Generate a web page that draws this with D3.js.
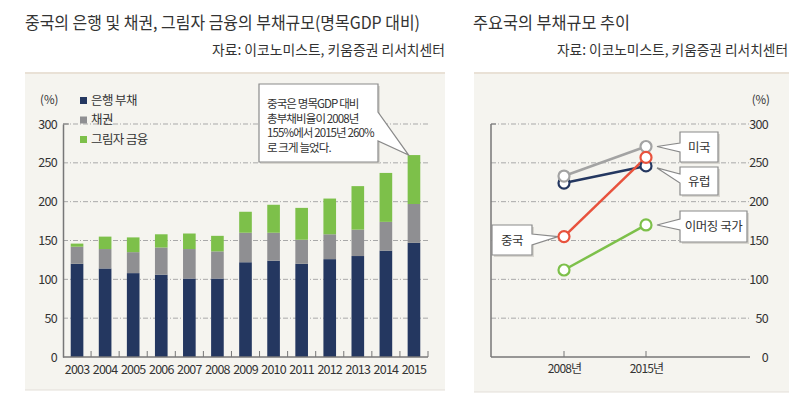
<!DOCTYPE html>
<html><head><meta charset="utf-8">
<script src="https://cdn.jsdelivr.net/npm/d3@7"></script>
<style>
body{margin:0;background:#fff;}
text{font-family:"Noto Sans CJK KR","Noto Sans",sans-serif;fill:#333;}
</style></head>
<body><svg id="c" width="800" height="400"></svg>
<script>
// ---- data: left chart ----
const years = ["2003","2004","2005","2006","2007","2008","2009","2010","2011","2012","2013","2014","2015"];
const bankDebt = [120,114,108,106,101,101,122,124,120,126,130,137,147];
const bondDebt = [22,25,27,35,38,35,38,36,31,32,34,37,50];
const shadowDebt = [4,16,19,17,20,20,27,36,41,46,56,63,63];
const seriesNames = ["은행 부채","채권","그림자 금융"];
const yTicks = [0,50,100,150,200,250,300];
// ---- data: right chart ----
const periods = ["2008년","2015년"];
const usDebt = [233,271];
const europeDebt = [224,246];
const chinaDebt = [155,257];
const emergingDebt = [112,170];

const svg = d3.select("#c");
const barColors = ["#243760","#8f8f92","#7dc04a"];
const gridColor = "#a9a9a9";
const dash = "5,2,1,2";

// panels
svg.append("rect").attr("x",25).attr("y",72).attr("width",420).attr("height",318).attr("fill","#f5f4ef");
svg.append("rect").attr("x",474).attr("y",72).attr("width",315).attr("height",320).attr("fill","#f5f4ef");
[[25,445],[474,789]].forEach(([a,b])=>{
  svg.append("line").attr("x1",a).attr("x2",b).attr("y1",73).attr("y2",73).attr("stroke","#e9e1d6").attr("stroke-width",2);
});
svg.append("line").attr("x1",25).attr("x2",445).attr("y1",390).attr("y2",390).attr("stroke","#e3dfd8");
svg.append("line").attr("x1",474).attr("x2",789).attr("y1",392).attr("y2",392).attr("stroke","#e3dfd8");

// titles
svg.append("text").attr("x",25).attr("y",29).attr("font-size",17).attr("fill","#2a2a2a").attr("textLength",395).attr("lengthAdjust","spacingAndGlyphs")
  .text("중국의 은행 및 채권, 그림자 금융의 부채규모(명목GDP 대비)");
svg.append("text").attr("x",212).attr("y",55).attr("font-size",14).attr("textLength",233).attr("lengthAdjust","spacingAndGlyphs")
  .text("자료:  이코노미스트, 키움증권 리서치센터");
svg.append("text").attr("x",473).attr("y",29).attr("font-size",17).attr("fill","#2a2a2a").attr("textLength",157).attr("lengthAdjust","spacingAndGlyphs")
  .text("주요국의 부채규모 추이");
svg.append("text").attr("x",557).attr("y",55).attr("font-size",14).attr("textLength",231).attr("lengthAdjust","spacingAndGlyphs")
  .text("자료:  이코노미스트, 키움증권 리서치센터");

// ---- left chart ----
const y = d3.scaleLinear().domain([0,300]).range([357,124]);
const x = d3.scaleBand().domain(years).range([63,428]).paddingInner(0.55).paddingOuter(0.275);
const gL = svg.append("g");
gL.selectAll(".grid").data(yTicks.filter(d=>d>0)).join("line")
  .attr("x1",63).attr("x2",428).attr("y1",d=>y(d)).attr("y2",d=>y(d))
  .attr("stroke",gridColor).attr("stroke-dasharray",dash).attr("stroke-width",1);
const yAxL = gL.append("g").attr("transform","translate(63,0)")
  .call(d3.axisLeft(y).tickValues(yTicks).tickSize(0).tickPadding(6));
yAxL.select(".domain").attr("stroke","#777").attr("stroke-width",1.5);
yAxL.selectAll("text").attr("font-size",12.5).attr("fill","#333").attr("letter-spacing",-0.7).attr("font-family","'Noto Sans',sans-serif");
gL.append("line").attr("x1",63).attr("x2",69).attr("y1",y(300)).attr("y2",y(300)).attr("stroke","#777");

const stackData = years.map((yr,i)=>({year:yr, bank:bankDebt[i], bond:bondDebt[i], shadow:shadowDebt[i]}));
const stack = d3.stack().keys(["bank","bond","shadow"])(stackData);
gL.selectAll(".s").data(stack).join("g").attr("fill",(d,i)=>barColors[i])
  .selectAll("rect").data(d=>d).join("rect")
  .attr("x",d=>x(d.data.year)).attr("width",x.bandwidth())
  .attr("y",d=>y(d[1])).attr("height",d=>y(d[0])-y(d[1]));

const xAxL = gL.append("g").attr("transform","translate(0,357)")
  .call(d3.axisBottom(x).tickSize(0).tickPadding(8));
xAxL.select(".domain").remove();
xAxL.selectAll("text").attr("font-size",12.5).attr("fill","#333").attr("letter-spacing",-0.8).attr("font-family","'Noto Sans',sans-serif");
gL.append("line").attr("x1",63).attr("x2",428).attr("y1",357).attr("y2",357).attr("stroke","#777").attr("stroke-width",1.5);
gL.selectAll(".xt").data(years.slice(1).concat(["end"])).join("line")
  .attr("x1",d=>d==="end"?428:x(d)-x.step()*x.paddingInner()/2).attr("x2",d=>d==="end"?428:x(d)-x.step()*x.paddingInner()/2)
  .attr("y1",357).attr("y2",351).attr("stroke","#777");

gL.append("text").attr("x",40).attr("y",104).attr("font-size",11.5).attr("fill","#444").text("(%)");
const leg = gL.selectAll(".leg").data(seriesNames).join("g").attr("transform",(d,i)=>`translate(80,${97+i*19.5})`);
leg.append("rect").attr("width",7).attr("height",7).attr("fill",(d,i)=>barColors[i]);
leg.append("text").attr("x",11).attr("y",7.5).attr("font-size",12.5).attr("letter-spacing",-0.6).attr("fill","#333").text(d=>d);

const ann = gL.append("g");
const bx0=259,bx1=378,by0=84,by1=162;
ann.append("path").attr("d",`M${bx0+2},${by0+2}H${bx1+2}V${by1+2}H${bx0+2}Z`).attr("fill","#d8d6d0");
ann.append("path").attr("d",`M${bx0},${by0}H${bx1}V112L${x("2015")+1},${y(260)}L${bx1},141V${by1}H${bx0}Z`)
  .attr("fill","#fff").attr("stroke","#8a8a8a").attr("stroke-width",1.2);
["중국은 명목GDP 대비","총부채비율이 2008년","155%에서 2015년 260%","로 크게 늘었다."].forEach((t,i)=>{
  ann.append("text").attr("x",267).attr("y",108+i*14.7).attr("font-size",11.5).attr("letter-spacing",-0.9).attr("fill","#333").text(t);
});

// ---- right chart ----
const y2 = d3.scaleLinear().domain([0,300]).range([357,124]);
const x2 = d3.scalePoint().domain(periods).range([564,646]);
const gR = svg.append("g");
gR.selectAll(".grid").data(yTicks.filter(d=>d>0)).join("line")
  .attr("x1",491).attr("x2",750).attr("y1",d=>y2(d)).attr("y2",d=>y2(d))
  .attr("stroke",gridColor).attr("stroke-dasharray",dash);
const yAxR = gR.append("g").attr("transform","translate(768,0)")
  .call(d3.axisLeft(y2).tickValues(yTicks).tickSize(0).tickPadding(0));
yAxR.select(".domain").remove();
yAxR.selectAll("text").attr("font-size",12.5).attr("fill","#333").attr("letter-spacing",-0.7).attr("font-family","'Noto Sans',sans-serif");
gR.append("text").attr("x",770).attr("y",104).attr("text-anchor","end").attr("font-size",11.5).attr("fill","#444").text("(%)");
gR.append("line").attr("x1",491).attr("x2",491).attr("y1",124).attr("y2",357).attr("stroke","#777").attr("stroke-width",1.5);
gR.append("line").attr("x1",491).attr("x2",750).attr("y1",357).attr("y2",357).attr("stroke","#777").attr("stroke-width",1.5);
gR.append("line").attr("x1",491).attr("x2",496).attr("y1",124).attr("y2",124).attr("stroke","#777");
gR.selectAll(".xt").data(periods).join("line").attr("x1",d=>x2(d)).attr("x2",d=>x2(d))
  .attr("y1",357).attr("y2",351).attr("stroke","#777");
const xAxR = gR.append("g").attr("transform","translate(0,357)").call(d3.axisBottom(x2).tickSize(0).tickPadding(7));
xAxR.select(".domain").remove();
xAxR.selectAll("text").attr("font-size",12).attr("fill","#333").attr("letter-spacing",-0.8);

const lines = [
  {name:"이머징 국가", vals:emergingDebt, color:"#7dc04a"},
  {name:"유럽", vals:europeDebt, color:"#243760"},
  {name:"미국", vals:usDebt, color:"#a3a3a3"},
  {name:"중국", vals:chinaDebt, color:"#e8523d"}
];
const lineGen = d3.line().x((d,i)=>x2(periods[i])).y(d=>y2(d));

function callout(x0,x1,yA,yB,tipX,tipY,baseA,baseB,label,side){
  const g = gR.append("g");
  g.append("path").attr("d",`M${x0+2},${yA+2}H${x1+2}V${yB+2}H${x0+2}Z`).attr("fill","#d8d6d0");
  let d;
  if(side==="left") d=`M${x0},${yA}H${x1}V${yB}H${x0}V${baseB}L${tipX},${tipY}L${x0},${baseA}Z`;
  else d=`M${x0},${yA}H${x1}V${baseA}L${tipX},${tipY}L${x1},${baseB}V${yB}H${x0}Z`;
  g.append("path").attr("d",d).attr("fill","#fff").attr("stroke","#8a8a8a").attr("stroke-width",1.2);
  g.append("text").attr("x",(x0+x1)/2).attr("y",(yA+yB)/2+4.5).attr("text-anchor","middle")
    .attr("font-size",12.5).attr("letter-spacing",-0.5).attr("fill","#2a2a2a").text(label);
}
callout(680,718,132,162,657,y2(usDebt[1]),143,152,"미국","left");
callout(680,718,167,195,657,y2(europeDebt[1])+2,174,183,"유럽","left");
callout(680,747,211,242,657,y2(emergingDebt[1]),219,230,"이머징 국가","left");
callout(492,532,225,255,558,y2(chinaDebt[0]),234,245,"중국","right");

lines.forEach(s=>{
  gR.append("path").datum(s.vals).attr("d",lineGen).attr("fill","none").attr("stroke",s.color).attr("stroke-width",2.5);
});
lines.forEach(s=>{
  gR.selectAll(null).data(s.vals).join("circle")
    .attr("cx",(d,i)=>x2(periods[i])).attr("cy",d=>y2(d)).attr("r",5.5)
    .attr("fill","#fff").attr("stroke",s.color).attr("stroke-width",2.2);
});
</script></body></html>
